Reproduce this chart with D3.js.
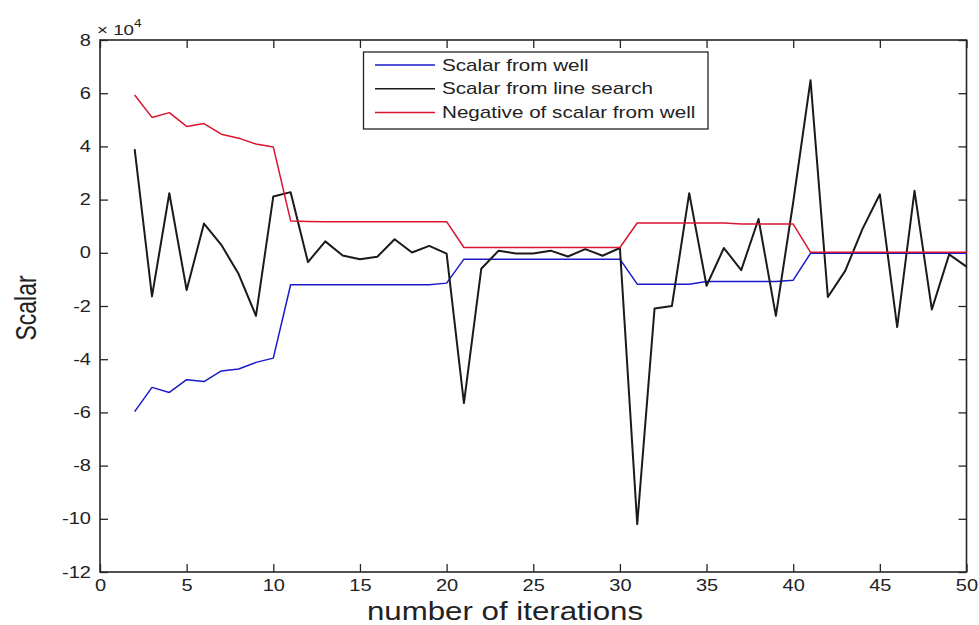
<!DOCTYPE html>
<html>
<head>
<meta charset="utf-8">
<script src="https://cdn.jsdelivr.net/npm/d3@7"></script>
<style>
  html, body { margin: 0; padding: 0; background: #fff; }
  svg { display: block; }
  text { font-family: "Liberation Sans", Arial, Helvetica, sans-serif; fill: #222; }
</style>
</head>
<body>
<svg id="chart" width="979" height="625"></svg>
<script>
// ---- data (values in raw units; axis shows ×10^4) ----
const iterations = d3.range(2, 51);   // 2..50
const scalarFromWell = [
  -59700, -50600, -52500, -47700, -48400, -44400, -43700, -41200, -39600,
  -12000, -12000, -12000, -12000, -12000, -12000, -12000, -12000, -12000, -11400,
  -2400, -2400, -2400, -2400, -2400, -2400, -2400, -2400, -2400, -2400,
  -11800, -11800, -11800, -11800, -10800, -10800, -10800, -10800, -10800, -10300,
  -200, -200, -200, -200, -200, -200, -200, -200, -200, -200
];
const scalarFromLineSearch = [
  39000, -16400, 22400, -14000, 11000, 3000, -8000, -23700, 21200,
  22800, -3500, 4300, -1000, -2400, -1500, 5100, 100, 2600, -300,
  -56500, -6000, 800, -300, -300, 800, -1400, 1400, -1100, 1800,
  -102000, -20900, -20000, 22400, -12400, 1800, -6500, 12700, -23700, 19000,
  64900, -16600, -6800, 9000, 22000, -27900, 23300, -21300, -600, -5200
];
const negScalarFromWell = [
  59300, 50900, 52700, 47500, 48600, 44600, 43100, 40900, 39800,
  12000, 11800, 11700, 11700, 11700, 11700, 11700, 11700, 11700, 11700,
  2000, 2000, 2000, 2000, 2000, 2000, 2000, 2000, 2000, 2000,
  11200, 11200, 11200, 11200, 11200, 11200, 10800, 10800, 10800, 10800,
  200, 200, 200, 200, 200, 200, 200, 200, 200, 200
];
const seriesNames = ["Scalar from well", "Scalar from line search", "Negative of scalar from well"];
const xTicks = d3.range(0, 51, 5);
const yTicks = d3.range(-120000, 80001, 20000);
const yExponent = 4;
const xLabel = "number of iterations";
const yLabel = "Scalar";

// ---- layout ----
const svg = d3.select("#chart");
const L = 100, R = 966.5, T = 40, B = 572;
const SX = 1.25; // horizontal stretch of the reference image's text
const x = d3.scaleLinear().domain([0, 50]).range([L, R]);
const y = d3.scaleLinear().domain([-120000, 80000]).range([B, T]);
const fmt = v => String(Math.round(v / Math.pow(10, yExponent)));

const axisColor = "#262626";
function styleAxis(g) {
  g.select(".domain").remove();
  g.selectAll(".tick line").attr("stroke", axisColor).attr("stroke-width", 1.3);
  g.selectAll("text").style("font-size", "16px").attr("fill", "#222");
}

// bottom
const gb = svg.append("g").attr("transform", `translate(0,${B})`)
  .call(d3.axisBottom(x).tickValues(xTicks).tickSizeInner(-8).tickSizeOuter(0).tickPadding(8).tickFormat(d => String(d)));
styleAxis(gb);
gb.selectAll("text").attr("transform", `scale(${SX},1)`);
// top
const gt = svg.append("g").attr("transform", `translate(0,${T})`)
  .call(d3.axisTop(x).tickValues(xTicks).tickSizeInner(-8).tickSizeOuter(0).tickFormat(""));
styleAxis(gt);
// left
const gl = svg.append("g").attr("transform", `translate(${L},0)`)
  .call(d3.axisLeft(y).tickValues(yTicks).tickSizeInner(-8).tickSizeOuter(0).tickPadding(0).tickFormat(fmt));
styleAxis(gl);
gl.selectAll("text").attr("x", 0).attr("transform", `translate(-9,0) scale(${SX},1)`);
// right
const gr = svg.append("g").attr("transform", `translate(${R},0)`)
  .call(d3.axisRight(y).tickValues(yTicks).tickSizeInner(-8).tickSizeOuter(0).tickFormat(""));
styleAxis(gr);

// frame
svg.append("rect").attr("x", L).attr("y", T).attr("width", R - L).attr("height", B - T)
  .attr("fill", "none").attr("stroke", axisColor).attr("stroke-width", 1.6);

// lines
const line = d3.line().x((d, i) => x(iterations[i])).y(d => y(d));
const colors = ["#1a1acc", "#1a1a1a", "#d9142e"];
const widths = [1.5, 2, 1.5];
[scalarFromWell, scalarFromLineSearch, negScalarFromWell].forEach((s, k) => {
  svg.append("path").datum(s).attr("d", line).attr("fill", "none")
    .attr("stroke", colors[k]).attr("stroke-width", widths[k]).attr("stroke-linejoin", "round");
});

// exponent label
const ex = svg.append("text").attr("transform", `translate(97,35) scale(${SX},1)`).style("font-size", "15px");
ex.append("tspan").text("\u00d7 10");
ex.append("tspan").attr("dy", -8).style("font-size", "11px").text(yExponent);

// axis labels
svg.append("text").attr("transform", `translate(505,620) scale(${SX},1)`)
  .attr("text-anchor", "middle").style("font-size", "25px").text(xLabel);
svg.append("text").attr("transform", `translate(36,308) scale(${SX},1) rotate(-90)`)
  .attr("text-anchor", "middle").style("font-size", "23px").text(yLabel);

// legend
const lg = svg.append("g");
lg.append("rect").attr("x", 363.5).attr("y", 52).attr("width", 344.5).attr("height", 77)
  .attr("fill", "#fff").attr("stroke", "#222").attr("stroke-width", 1.3);
seriesNames.forEach((name, k) => {
  const yy = 65 + k * 23.8;
  lg.append("line").attr("x1", 375).attr("x2", 435).attr("y1", yy).attr("y2", yy)
    .attr("stroke", colors[k]).attr("stroke-width", 1.5);
  lg.append("text").attr("transform", `translate(442,${yy + 5.5}) scale(1.29,1)`)
    .style("font-size", "16px").text(name);
});
</script>
</body>
</html>
